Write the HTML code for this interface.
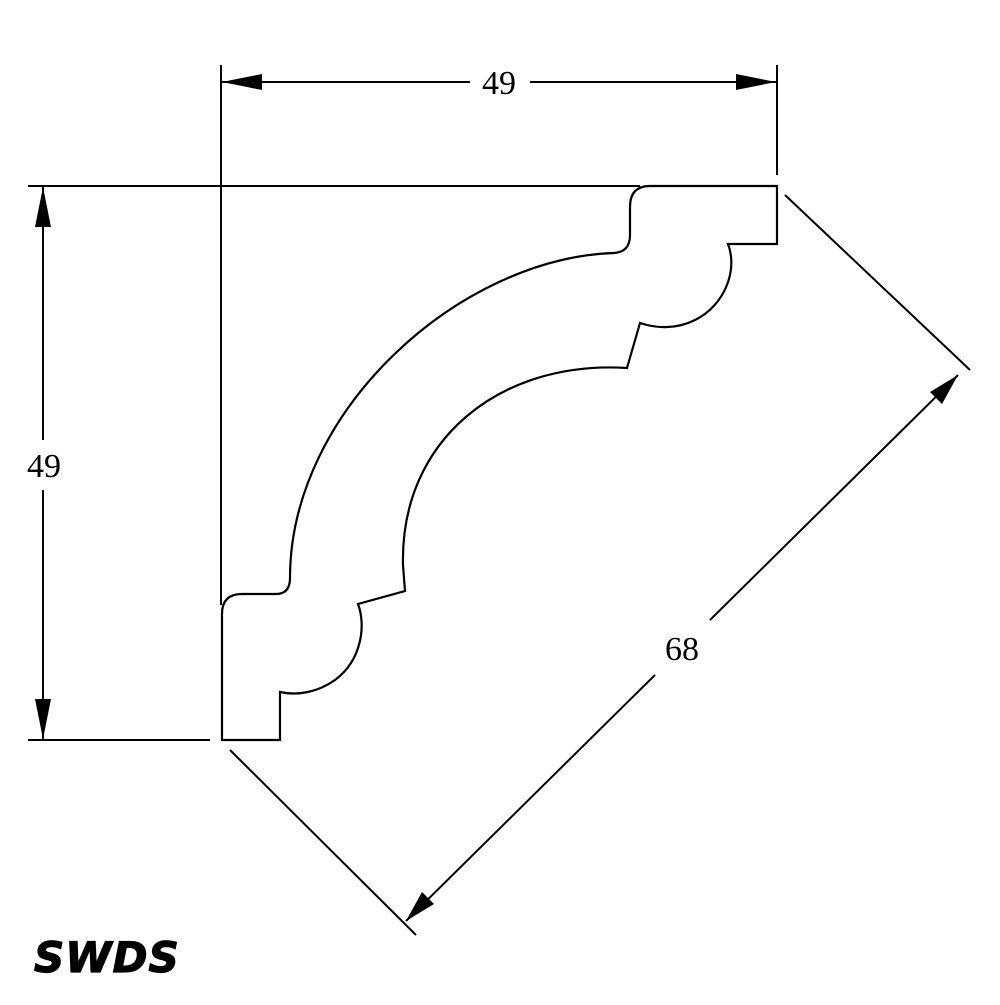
<!DOCTYPE html>
<html><head><style>html,body{margin:0;padding:0;background:#fff}</style></head>
<body>
<svg width="1000" height="1000" viewBox="0 0 1000 1000" xmlns="http://www.w3.org/2000/svg">
<rect width="1000" height="1000" fill="#fff"/>
<g stroke="#000" stroke-width="2" fill="none">
<line x1="221" y1="65" x2="221" y2="605"/>
<line x1="777" y1="65" x2="777" y2="175"/>
<line x1="28" y1="186" x2="640" y2="186"/>
<line x1="28" y1="740" x2="210" y2="740"/>
<line x1="785" y1="195" x2="970" y2="370"/>
<line x1="230" y1="750" x2="416" y2="935"/>
<line x1="222" y1="82" x2="470" y2="82"/>
<line x1="530" y1="82" x2="776" y2="82"/>
<line x1="43" y1="187" x2="43" y2="440"/>
<line x1="43" y1="490" x2="43" y2="739"/>
<line x1="958" y1="375" x2="710" y2="620"/>
<line x1="655" y1="675" x2="406" y2="921"/>
<path stroke-width="2.2" d="M650,186 L777,186 L777,244 L728,244 C738,270 725,305 695,320 C675,330 655,328 640,323 L627,368 C500,360 400,440 403,565 L405,591 L358,604 C366,625 362,660 335,680 C318,692 298,696 280,692 L280,740 L222,740 L222,614 Q222,594 242,594 L276,594 Q290,594 290,578 C290,410 460,258 614,253 Q630,252 630,235 L630,207 Q630,186 650,186 Z"/>
</g>
<g fill="#000">
<polygon points="222,82 262,74 262,90"/>
<polygon points="776,82 736,74 736,90"/>
<polygon points="43,187 35,227 51,227"/>
<polygon points="43,739 35,699 51,699"/>
<polygon points="958,375 942,404 930,392"/>
<polygon points="406,921 422,892 434,904"/>
</g>
<g font-family="Liberation Serif, serif" font-size="34" fill="#000" text-anchor="middle">
<text x="499" y="94">49</text>
<text x="44" y="477">49</text>
<text x="682" y="660">68</text>
</g>
<text x="34" y="972" font-family="DejaVu Sans, sans-serif" font-weight="900" font-style="italic" font-size="42" letter-spacing="1" stroke="#000" stroke-width="1.2" fill="#000">SWDS</text>
</svg>
</body></html>
